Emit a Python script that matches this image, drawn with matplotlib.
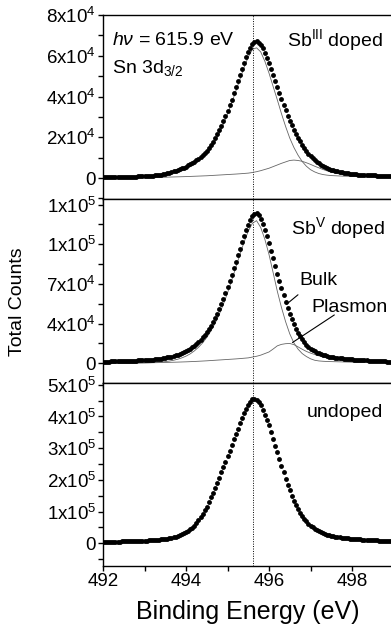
import numpy as np
import matplotlib
matplotlib.use("Agg")
import matplotlib.pyplot as plt
from matplotlib.ticker import FixedLocator, MultipleLocator

plt.rcParams["font.family"] = ["Liberation Sans", "DejaVu Sans"]
plt.rcParams["mathtext.fontset"] = "custom"
plt.rcParams["mathtext.rm"] = "Liberation Sans"
plt.rcParams["mathtext.it"] = "Liberation Sans:italic"
plt.rcParams["mathtext.default"] = "regular"

# binding energy channels (eV): data every 0.05 eV, fit curves every 0.1 eV
energy = np.linspace(492.0, 499.0, 141)
fit_energy = np.linspace(492.0, 499.0, 71)

# counts in units of 1e3
sb3_counts = [0.3, 0.3, 0.3, 0.3, 0.3, 0.35, 0.4, 0.4, 0.4, 0.45,
              0.5, 0.5, 0.5, 0.55, 0.6, 0.65, 0.7, 0.75, 0.8, 0.85,
              0.9, 0.95, 1.0, 1.1, 1.2, 1.3, 1.4, 1.55, 1.7, 1.9,
              2.1, 2.35, 2.6, 2.9, 3.2, 3.55, 3.9, 4.3, 4.7, 5.15,
              5.6, 6.15, 6.7, 7.35, 8.0, 8.7, 9.5, 10.4, 11.3, 12.4,
              13.5, 14.8, 16.2, 17.8, 19.5, 21.4, 23.4, 25.6, 28.0, 30.5,
              33.0, 35.7, 38.5, 41.5, 44.5, 47.5, 50.5, 53.5, 56.5, 59.3,
              61.8, 64.0, 65.8, 66.8, 67.0, 66.5, 65.5, 63.7, 61.5, 59.0,
              56.3, 53.4, 50.5, 47.7, 44.8, 41.8, 38.8, 36.0, 33.2, 30.6,
              28.2, 25.9, 23.8, 21.7, 19.8, 18.0, 16.3, 14.7, 13.3, 12.0,
              10.8, 9.8, 8.8, 8.0, 7.2, 6.5, 5.9, 5.4, 4.9, 4.5,
              4.1, 3.8, 3.5, 3.25, 3.0, 2.8, 2.6, 2.45, 2.3, 2.15,
              2.0, 1.9, 1.8, 1.7, 1.6, 1.55, 1.5, 1.45, 1.4, 1.35,
              1.3, 1.25, 1.2, 1.2, 1.2, 1.15, 1.1, 1.1, 1.1, 1.05,
              1.0]
sb3_bulk = [0.1, 0.1, 0.12, 0.14, 0.16, 0.18, 0.2, 0.25, 0.3, 0.35,
            0.45, 0.55, 0.7, 0.9, 1.2, 1.6, 2.1, 2.7, 3.3, 4.1,
            4.9, 5.9, 7.1, 8.6, 10.3, 12.4, 15.0, 18.2, 21.9, 26.4,
            31.3, 36.7, 42.6, 48.4, 54.3, 59.4, 63.1, 63.9, 61.9, 57.3,
            51.5, 44.9, 38.4, 31.6, 25.3, 19.6, 15.0, 11.2, 8.1, 5.8,
            4.1, 3.0, 2.2, 1.7, 1.4, 1.2, 1.1, 1.0, 0.9, 0.85,
            0.8, 0.75, 0.7, 0.65, 0.6, 0.55, 0.5, 0.5, 0.45, 0.45,
            0.4]
sb3_plasmon = [0.0, 0.02, 0.04, 0.06, 0.08, 0.1, 0.12, 0.14, 0.16, 0.18,
               0.2, 0.24, 0.28, 0.32, 0.36, 0.4, 0.46, 0.52, 0.58, 0.64,
               0.7, 0.78, 0.86, 0.94, 1.02, 1.1, 1.22, 1.34, 1.46, 1.58,
               1.7, 1.82, 1.94, 2.08, 2.24, 2.4, 2.7, 3.1, 3.6, 4.2,
               4.8, 5.6, 6.4, 7.2, 7.9, 8.6, 8.8, 8.6, 8.2, 7.5,
               6.7, 5.8, 5.0, 4.2, 3.5, 2.9, 2.4, 2.0, 1.7, 1.4,
               1.2, 1.0, 0.9, 0.8, 0.7, 0.6, 0.55, 0.5, 0.45, 0.4,
               0.35]

sb5_counts = [1.5, 1.5, 1.5, 1.55, 1.6, 1.65, 1.7, 1.75, 1.8, 1.85,
              1.9, 1.95, 2.0, 2.1, 2.2, 2.3, 2.4, 2.5, 2.6, 2.7,
              2.8, 2.9, 3.0, 3.15, 3.3, 3.5, 3.7, 3.95, 4.2, 4.5,
              4.8, 5.15, 5.5, 5.95, 6.4, 6.95, 7.5, 8.2, 8.9, 9.7,
              10.6, 11.7, 12.8, 14.1, 15.5, 17.1, 18.8, 20.7, 22.8, 25.1,
              27.6, 30.4, 33.3, 36.6, 40.0, 43.8, 47.8, 52.2, 56.8, 61.8,
              67.0, 72.5, 78.0, 83.7, 89.5, 95.3, 101.0, 106.6, 112.0, 117.2,
              122.0, 126.0, 129.5, 131.5, 132.3, 130.5, 127.0, 122.8, 118.0, 112.2,
              106.0, 99.3, 92.5, 85.7, 79.0, 72.4, 66.0, 59.9, 54.0, 48.5,
              43.5, 38.8, 34.5, 30.6, 27.0, 23.8, 21.0, 18.6, 16.5, 14.6,
              13.0, 11.7, 10.5, 9.5, 8.7, 8.0, 7.4, 6.9, 6.4, 6.0,
              5.7, 5.4, 5.1, 4.85, 4.6, 4.4, 4.2, 4.0, 3.8, 3.65,
              3.5, 3.35, 3.2, 3.05, 2.9, 2.75, 2.6, 2.5, 2.4, 2.3,
              2.2, 2.1, 2.0, 1.9, 1.8, 1.7, 1.6, 1.5, 1.4, 1.35,
              1.3]
sb5_bulk = [0.1, 0.1, 0.12, 0.14, 0.16, 0.18, 0.2, 0.25, 0.3, 0.35,
            0.4, 0.5, 0.65, 0.85, 1.1, 1.5, 2.0, 2.7, 3.6, 4.8,
            6.3, 8.3, 10.9, 14.1, 18.0, 22.8, 28.5, 35.2, 43.0, 52.0,
            62.0, 73.0, 84.5, 96.0, 107.0, 116.5, 123.5, 125.8, 119.8, 109.4,
            96.0, 79.9, 63.6, 49.3, 36.7, 26.0, 18.0, 12.5, 8.6, 6.0,
            4.0, 2.7, 2.1, 1.8, 1.6, 1.5, 1.4, 1.3, 1.2, 1.1,
            1.0, 0.95, 0.9, 0.85, 0.8, 0.75, 0.7, 0.65, 0.6, 0.55,
            0.5]
sb5_plasmon = [0.0, 0.04, 0.08, 0.12, 0.16, 0.2, 0.24, 0.28, 0.32, 0.36,
               0.4, 0.46, 0.52, 0.59, 0.67, 0.75, 0.85, 0.95, 1.06, 1.18,
               1.3, 1.46, 1.62, 1.8, 2.0, 2.2, 2.44, 2.68, 2.92, 3.16,
               3.4, 3.64, 3.88, 4.16, 4.48, 4.8, 5.5, 6.2, 7.2, 8.6,
               10.0, 12.6, 15.4, 16.7, 17.3, 17.5, 16.5, 14.5, 12.4, 10.5,
               9.0, 7.8, 6.6, 5.6, 4.8, 4.0, 3.4, 2.9, 2.5, 2.2,
               1.9, 1.7, 1.5, 1.35, 1.2, 1.1, 1.0, 0.95, 0.9, 0.85,
               0.8]

undoped_counts = [5, 5, 5, 5, 5, 5.2, 5.5, 5.5, 5.5, 5.7,
                  6, 6, 6, 6.2, 6.5, 6.7, 7, 7.2, 7.5, 7.7,
                  8, 8.5, 9, 9.5, 10, 10.5, 11, 11.5, 12, 12.7,
                  13.5, 14.7, 16, 17.4, 19, 20.9, 23, 25.3, 28, 31.2,
                  35, 39.2, 44, 49.6, 56, 63.5, 72, 81.7, 92, 103.5,
                  116, 130, 145, 160, 175, 191, 207, 223.5, 240, 257.5,
                  275, 292.5, 310, 327.5, 345, 361.5, 378, 394, 410, 424,
                  437, 447, 454, 455.5, 452, 445, 435, 421, 405, 389,
                  372, 351, 330, 308.5, 287, 265.5, 244, 224, 204, 185,
                  167, 150.5, 135, 121, 108, 96.5, 86, 77, 69, 62,
                  56, 50.8, 46, 41.8, 38, 34.8, 32, 29.4, 27, 25.2,
                  23.5, 22.2, 21, 20, 19, 18, 17, 16.2, 15.5, 14.7,
                  14, 13.5, 13, 12.5, 12, 11.5, 11, 10.5, 10, 9.7,
                  9.5, 9.2, 9, 8.7, 8.5, 8.2, 8, 7.7, 7.5, 7.2,
                  7]

peak_position = 495.62

# y tick positions / labels per panel (top to bottom)
sb3_ticks = [0, 2e4, 4e4, 6e4, 8e4]
sb3_labels = ["0", "2x10$^{4}$", "4x10$^{4}$", "6x10$^{4}$", "8x10$^{4}$"]
sb5_ticks = [0, 3.5e4, 7e4, 1.05e5, 1.4e5]
sb5_labels = ["0", "4x10$^{4}$", "7x10$^{4}$", "1x10$^{5}$", "1x10$^{5}$"]
undoped_ticks = [0, 1e5, 2e5, 3e5, 4e5, 5e5]
undoped_labels = ["0", "1x10$^{5}$", "2x10$^{5}$", "3x10$^{5}$", "4x10$^{5}$", "5x10$^{5}$"]

W, H = 391, 635
fig = plt.figure(figsize=(W / 100, H / 100), dpi=100)

left = 103 / W
width = 290.5 / W
edges = [15, 199, 382.7, 566]
axes = []
for i in range(3):
    top, bot = edges[i], edges[i + 1]
    ax = fig.add_axes([left, 1 - bot / H, width, (bot - top) / H])
    axes.append(ax)

ylims = [(-1.03e4, 8e4), (-1.71e4, 1.449e5), (-7.16e4, 5.066e5)]
minors = [1e4, 1.75e4, 5e4]
ticks = [(sb3_ticks, sb3_labels), (sb5_ticks, sb5_labels), (undoped_ticks, undoped_labels)]

for ax, yl, mn, (tk, lb) in zip(axes, ylims, minors, ticks):
    ax.set_xlim(492, 499)
    ax.set_ylim(*yl)
    ax.xaxis.set_major_locator(MultipleLocator(2))
    ax.xaxis.set_minor_locator(MultipleLocator(1))
    ax.yaxis.set_major_locator(FixedLocator(tk))
    ax.set_yticklabels(lb)
    ax.yaxis.set_minor_locator(MultipleLocator(mn))
    ax.tick_params(which="both", direction="out", length=3.5, width=1,
                   labelsize=13.5, pad=1.5, colors="black")
    for sp in ax.spines.values():
        sp.set_linewidth(1)
    ax.axvline(peak_position, color="black", ls=(0, (1, 1.5)), lw=0.7, zorder=1)
    if ax is not axes[2]:
        ax.tick_params(axis="x", labelbottom=False)

dot = dict(ls="none", marker="o", ms=3.5, mew=0, color="black", zorder=3)
fit = dict(color="0.4", lw=0.6, zorder=2)

ax1, ax2, ax3 = axes
ax1.plot(fit_energy, np.array(sb3_bulk) * 1e3, **fit)
ax1.plot(fit_energy, np.array(sb3_plasmon) * 1e3, **fit)
ax1.plot(energy, np.array(sb3_counts) * 1e3, **dot)

ax2.plot(fit_energy, np.array(sb5_bulk) * 1e3, **fit)
ax2.plot(fit_energy, np.array(sb5_plasmon) * 1e3, **fit)
ax2.plot(energy, np.array(sb5_counts) * 1e3, **dot)

ax3.plot(energy, np.array(undoped_counts) * 1e3, **dot)

fs = 14
ax1.text(0.031, 0.864, r"$\mathit{hν}$ = 615.9 eV", transform=ax1.transAxes,
         fontsize=fs, va="center", ha="left")
ax1.text(0.031, 0.712, "Sn 3d$_{3/2}$", transform=ax1.transAxes,
         fontsize=fs, va="center", ha="left")
ax1.text(0.964, 0.864, "Sb$^{III}$ doped", transform=ax1.transAxes,
         fontsize=fs, va="center", ha="right")
ax2.text(0.971, 0.842, "Sb$^{V}$ doped", transform=ax2.transAxes,
         fontsize=fs, va="center", ha="right")
ax3.text(0.964, 0.835, "undoped", transform=ax3.transAxes,
         fontsize=fs, va="center", ha="right")

ax2.annotate("", xy=(496.37, 50.5e3), xytext=(496.75, 62e3),
             arrowprops=dict(arrowstyle="-", lw=0.8, color="black"))
ax2.text(497.2, 73.4e3, "Bulk", fontsize=fs, ha="center", va="center")
ax2.annotate("", xy=(496.51, 17e3), xytext=(497.63, 44e3),
             arrowprops=dict(arrowstyle="-", lw=0.8, color="black"))
ax2.text(497.95, 48.8e3, "Plasmon", fontsize=fs, ha="center", va="center")

ax3.set_xlabel("Binding Energy (eV)", fontsize=18, labelpad=7)
fig.text(18 / W, 1 - 301.7 / H, "Total Counts", rotation=90, fontsize=14,
         ha="center", va="center")

fig.savefig("out.png", dpi=100)
